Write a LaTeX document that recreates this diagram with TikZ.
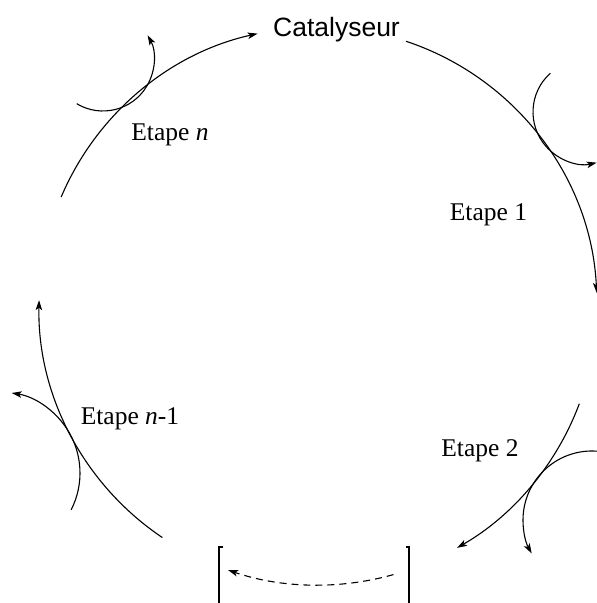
\documentclass[tikz,border=0pt]{standalone}
\usepackage{fontspec}
\setmainfont{Liberation Serif}
\newfontfamily\catfont{Liberation Sans}
\usetikzlibrary{arrows.meta,calc}
\begin{document}
\begin{tikzpicture}[x=1pt,y=1pt,line width=1.1pt,
  tip/.style={-{Stealth[length=10pt,width=6.5pt,inset=2.5pt]}},
  dsh/.style={dashed,dash pattern=on 7pt off 5pt},
  lbl/.style={font=\fontsize{25.5}{30}\selectfont,anchor=base,inner sep=0pt},
  cat/.style={font=\catfont\fontsize{26.5}{31}\selectfont,anchor=base,inner sep=0pt}]
\useasboundingbox (0,0) rectangle (597,603);
% main circle centre
\coordinate (C) at (318,297);
% small tangent circle centres
\coordinate (Sn) at (103,543);
\coordinate (S1) at (585,491);
\coordinate (S2) at (592,83);
\coordinate (Sm) at (-1,130);
% labels
\node[cat] (cat) at (336.5,566) {Catalyseur};
\node[lbl] (en) at (170,462) {Etape \textit{n}};
\node[lbl] (e1) at (488.5,382) {Etape 1};
\node[lbl] (e2) at (480,146) {Etape 2};
\node[lbl] (em) at (130,178) {Etape \textit{n}-1};
% main arcs
\draw[tip] ([shift={(157:279)}]C) arc[start angle=157,end angle=102.5,radius=279];
\draw[tip] ([shift={(71.6:279)}]C) arc[start angle=71.6,end angle=2.7,radius=279];
\draw[tip] ([shift={(-20.5:279)}]C) arc[start angle=-20.5,end angle=-60.1,radius=279];
\draw[tip] ([shift={(236.1:279)}]C) arc[start angle=236.1,end angle=178.8,radius=279];
\draw[tip,dsh] ([shift={(-74.3:279)}]C) arc[start angle=-74.3,end angle=-108.8,radius=279];
% small tangent arcs
\draw[tip] ([shift={(239:51)}]Sn) arc[start angle=239,end angle=389,radius=51];
\draw[tip] ([shift={(131.7:52)}]S1) arc[start angle=131.7,end angle=283,radius=52];
\draw[tip] ([shift={(86:69)}]S2) arc[start angle=86,end angle=209,radius=69];
\draw[tip] ([shift={(-27:81)}]Sm) arc[start angle=-27,end angle=81,radius=81];
% brackets
\draw (223,56) -- (219,56) -- (219,-5);
\draw (406,56) -- (409,56) -- (409,-5);
\end{tikzpicture}
\end{document}
